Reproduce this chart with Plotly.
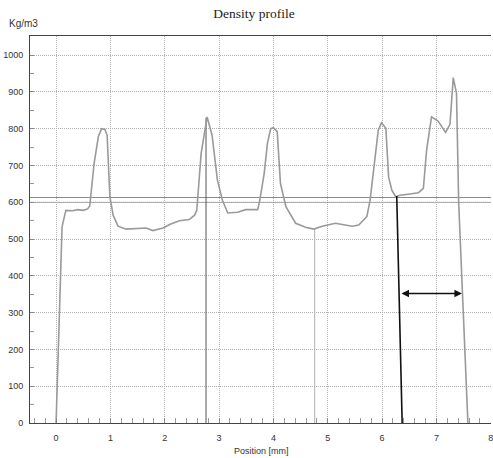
import plotly.graph_objects as go

# ---- data ----
position_mm = [0.0, 0.11, 0.18, 0.30, 0.40, 0.50, 0.58, 0.62, 0.70, 0.78, 0.84, 0.90, 0.94, 0.99,
               1.05, 1.14, 1.29, 1.54, 1.66, 1.78, 1.97, 2.10, 2.27, 2.45, 2.55, 2.59, 2.67, 2.78,
               2.87, 2.97, 3.06, 3.16, 3.34, 3.49, 3.71, 3.75, 3.83, 3.89, 3.95, 4.00, 4.07, 4.13,
               4.23, 4.41, 4.59, 4.74, 4.90, 5.14, 5.45, 5.57, 5.72, 5.78, 5.86, 5.93, 5.99, 6.07,
               6.12, 6.18, 6.25, 6.33, 6.48, 6.67, 6.76, 6.82, 6.91, 7.03, 7.17, 7.25, 7.31, 7.37,
               7.41, 7.58]
density = [0, 533, 578, 577, 580, 578, 582, 590, 706, 780, 800, 798, 782, 615,
           565, 535, 527, 529, 530, 523, 530, 540, 550, 553, 565, 579, 733, 832,
           783, 660, 606, 571, 573, 580, 580, 606, 678, 760, 800, 803, 792, 651,
           588, 543, 532, 527, 535, 543, 535, 538, 561, 606, 706, 796, 816, 801,
           669, 633, 615, 619, 622, 626, 638, 742, 832, 821, 790, 812, 939, 896,
           600, 0]

# marker lines drawn on the reference
black_line_x = [6.27, 6.37]
black_line_y = [617, 0]
peak_line_x = [2.76, 2.76]
peak_line_y = [830, 0]
valley_line_x = [4.76, 4.76]
valley_line_y = [527, 0]
ref_level = 613
grid_level = 600
arrow_x = [6.33, 7.47]
arrow_y = 352

x_ticks = [0, 1, 2, 3, 4, 5, 6, 7, 8]
y_ticks = [0, 100, 200, 300, 400, 500, 600, 700, 800, 900, 1000]
x_span = [-0.5, 8.1]

fig = go.Figure()

fig.add_trace(go.Scatter(x=x_span, y=[ref_level, ref_level], mode="lines",
                         line=dict(color="#8a8a8a", width=1), hoverinfo="skip"))
fig.add_trace(go.Scatter(x=x_span, y=[grid_level, grid_level], mode="lines",
                         line=dict(color="#8a8a8a", width=1, dash="1px,1px"), hoverinfo="skip"))
fig.add_trace(go.Scatter(x=peak_line_x, y=peak_line_y, mode="lines",
                         line=dict(color="#555555", width=1), hoverinfo="skip"))
fig.add_trace(go.Scatter(x=valley_line_x, y=valley_line_y, mode="lines",
                         line=dict(color="#b0b0b0", width=1), hoverinfo="skip"))
fig.add_trace(go.Scatter(x=position_mm, y=density, mode="lines",
                         line=dict(color="#9a9a9a", width=1.6)))
fig.add_trace(go.Scatter(x=black_line_x, y=black_line_y, mode="lines",
                         line=dict(color="#111111", width=1.6), hoverinfo="skip"))

fig.update_layout(
    width=493, height=458,
    margin=dict(l=30, r=0, t=36, b=35),
    paper_bgcolor="white", plot_bgcolor="white",
    showlegend=False,
    font=dict(family="Liberation Sans", size=9, color="#333"),
    title=dict(text="Density profile", x=254 / 493, xanchor="center", xref="container",
               y=1 - 13 / 458, yanchor="middle", yref="container",
               font=dict(family="Liberation Serif", size=13.5, color="#222")),
    annotations=[
        dict(text="Kg/m3", x=-23 / 463, y=1 + 12 / 387, xref="paper", yref="paper",
             xanchor="left", yanchor="middle", showarrow=False,
             font=dict(family="Liberation Sans", size=10, color="#333")),
        dict(text="Position [mm]", x=0.503, y=-28 / 387, xref="paper", yref="paper",
             xanchor="center", yanchor="middle", showarrow=False,
             font=dict(family="Liberation Sans", size=9, color="#333")),
        dict(x=arrow_x[1], y=arrow_y, ax=arrow_x[0], ay=arrow_y,
             xref="x", yref="y", axref="x", ayref="y", text="",
             showarrow=True, arrowhead=2, arrowside="end+start",
             arrowsize=1, arrowwidth=1.5, arrowcolor="#111111"),
    ],
)

fig.update_xaxes(range=[-0.48, 8.005], tickvals=x_ticks, ticktext=[str(v) for v in x_ticks],
                 showgrid=True, gridcolor="#b0b0b0", griddash="1px,1px", gridwidth=1,
                 showline=True, linecolor="#444", linewidth=1, mirror=True,
                 ticks="inside", ticklen=5, tickcolor="#888",
                 minor=dict(dtick=0.2, tick0=0, ticks="inside", ticklen=5, tickcolor="#999", showgrid=False),
                 zeroline=False, ticklabelstandoff=6, ticklabeloverflow="allow")
fig.update_yaxes(range=[0, 1052], tickvals=y_ticks, ticktext=[str(v) for v in y_ticks],
                 showgrid=True, gridcolor="#b0b0b0", griddash="1px,1px", gridwidth=1,
                 showline=True, linecolor="#444", linewidth=1, mirror=False,
                 ticks="inside", ticklen=4, tickcolor="#888",
                 minor=dict(dtick=50, tick0=0, ticks="inside", ticklen=4, tickcolor="#999", showgrid=False),
                 zeroline=False, ticklabelstandoff=4)

fig.write_html("out.html")
